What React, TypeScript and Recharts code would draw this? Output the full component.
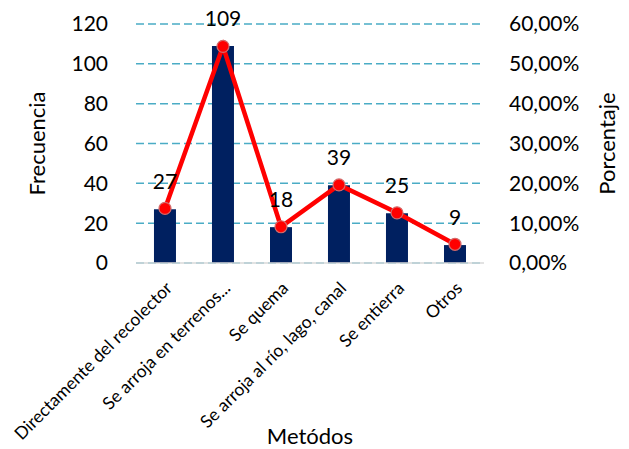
import {
  Bar,
  CartesianGrid,
  ComposedChart,
  LabelList,
  Line,
  XAxis,
  YAxis,
} from 'recharts'

const metodos = [
  'Directamente del recolector',
  'Se arroja en terrenos...',
  'Se quema',
  'Se arroja al río, lago, canal',
  'Se entierra',
  'Otros',
]
const frecuencia = [27, 109, 18, 39, 25, 9]
const porcentaje = [13.7, 54.4, 9.1, 19.6, 12.6, 4.7]
const frecTicks = [0, 20, 40, 60, 80, 100, 120]
const pctTicks = [0, 10, 20, 30, 40, 50, 60]

const data = metodos.map((name, i) => ({
  name,
  frecuencia: frecuencia[i],
  porcentaje: porcentaje[i],
}))

const FONT = 'Lato, "Open Sans", sans-serif'

const fmtPct = (v: number) => `${v.toFixed(2).replace('.', ',')}%`

function RotatedTick(props: any) {
  const { x, y, payload } = props
  return (
    <g transform={`translate(${x + 4},${y})`}>
      <text
        transform="rotate(-45)"
        textAnchor="end"
        dy="0.35em"
        fontSize={17.5}
        fontFamily={FONT}
        fill="#000"
      >
        {payload.value}
      </text>
    </g>
  )
}

export default function App() {
  return (
    <div style={{ position: 'absolute', left: 0, top: 0, width: 629, height: 449, background: '#fff' }}>
      <ComposedChart
        width={629}
        height={449}
        data={data}
        margin={{ top: 24, right: 0, bottom: 0, left: 0 }}
        barCategoryGap="31%"
      >
        <CartesianGrid
          yAxisId="left"
          vertical={false}
          stroke="#4aacc5"
          strokeWidth={1.5}
          strokeDasharray="8 4"
        />
        <XAxis
          dataKey="name"
          height={186}
          interval={0}
          tickLine={false}
          axisLine={{ stroke: '#d9d9d9', strokeWidth: 1.5 }}
          tick={<RotatedTick />}
          tickMargin={16}
          label={{
            value: 'Metódos',
            position: 'insideBottom',
            offset: 5,
            fontSize: 22,
            fontFamily: FONT,
            fill: '#000',
          }}
        />
        <YAxis
          yAxisId="left"
          width={136}
          domain={[0, 120]}
          ticks={frecTicks}
          axisLine={false}
          tickLine={false}
          tickMargin={22}
          tick={{ fontSize: 21, fontFamily: FONT, fill: '#000' }}
          label={{
            value: 'Frecuencia',
            angle: -90,
            position: 'center',
            dx: -31,
            fontSize: 22,
            fontFamily: FONT,
            fill: '#000',
          }}
        />
        <YAxis
          yAxisId="right"
          orientation="right"
          width={145}
          domain={[0, 60]}
          ticks={pctTicks}
          tickFormatter={fmtPct}
          axisLine={false}
          tickLine={false}
          tickMargin={19}
          tick={{ fontSize: 21, fontFamily: FONT, fill: '#000', textAnchor: 'start' }}
          label={{
            value: 'Porcentaje',
            angle: -90,
            position: 'center',
            dx: 51,
            fontSize: 22,
            fontFamily: FONT,
            fill: '#000',
          }}
        />
        <Bar yAxisId="left" dataKey="frecuencia" fill="#002060" isAnimationActive={false}>
          <LabelList
            dataKey="frecuencia"
            position="top"
            offset={20}
            fontSize={21}
            fontFamily={FONT}
            fill="#000"
          />
        </Bar>
        <Line
          yAxisId="right"
          dataKey="porcentaje"
          stroke="#ff0000"
          strokeWidth={4.5}
          dot={{ r: 6, fill: '#ff0000', stroke: '#d46a6a', strokeWidth: 1.2 }}
          isAnimationActive={false}
        />
      </ComposedChart>
    </div>
  )
}
